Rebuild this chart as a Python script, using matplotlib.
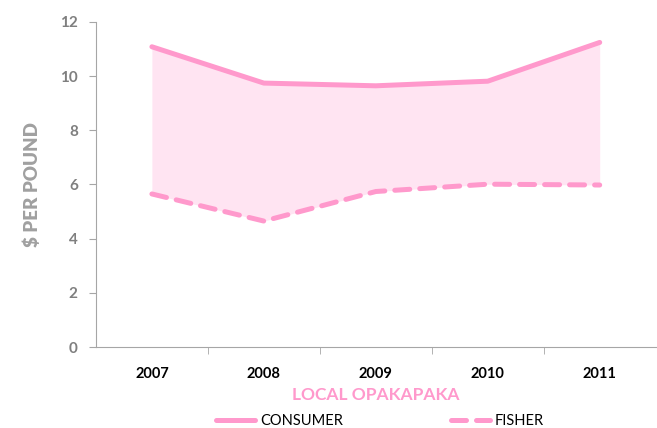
import numpy as np
import matplotlib.pyplot as plt

# data
years = ["2007", "2008", "2009", "2010", "2011"]
consumer = [11.08, 9.74, 9.64, 9.81, 11.24]
fisher = [5.65, 4.65, 5.74, 6.01, 5.98]

pink = "#FF99CC"
fill_pink = "#FFE4F2"
grey = "#7f7f7f"

plt.rcParams["font.family"] = ["Lato", "DejaVu Sans"]

fig = plt.figure(figsize=(6.57, 4.28), dpi=100)
ax = fig.add_axes([0.146, 0.189, 0.852, 0.760])

x = np.arange(len(years))
ax.fill_between(x, fisher, consumer, color=fill_pink, linewidth=0)
ax.plot(x, consumer, color=pink, lw=3.6, solid_capstyle="round", label="CONSUMER")
ax.plot(x, fisher, color=pink, lw=3.6, dashes=(3, 2), dash_capstyle="round", label="FISHER")

ax.set_xlim(-0.5, len(years) - 0.5)
ax.set_ylim(0, 12)
ax.set_yticks(range(0, 13, 2))
ax.set_xticks(x)
ax.set_xticklabels(years, fontweight="bold", fontsize=10.5, color="black")
ax.set_xticks(np.arange(0.5, len(years) - 0.5), minor=True)
ax.tick_params(axis="x", which="major", length=0, pad=14)
ax.tick_params(axis="x", which="minor", length=5, color="#a6a6a6", direction="out")
ax.tick_params(axis="y", length=5, color="#a6a6a6", labelcolor=grey, labelsize=11, pad=8)
for lab in ax.get_yticklabels():
    lab.set_fontweight("bold")

for s in ["top", "right"]:
    ax.spines[s].set_visible(False)
for s in ["left", "bottom"]:
    ax.spines[s].set_color("#a6a6a6")

ax.set_ylabel("$ PER POUND", color="#a0a0a0", fontweight="heavy", fontsize=13.5, labelpad=14)
ax.set_xlabel("LOCAL OPAKAPAKA", color=pink, fontweight="bold", fontsize=12.5, labelpad=5)

fig.legend(loc="lower center", bbox_to_anchor=(0.578, -0.03), ncol=2, frameon=False,
           fontsize=10.5, handlelength=2.7, handletextpad=0.3, columnspacing=7.4)

fig.savefig("out.png", dpi=100)
